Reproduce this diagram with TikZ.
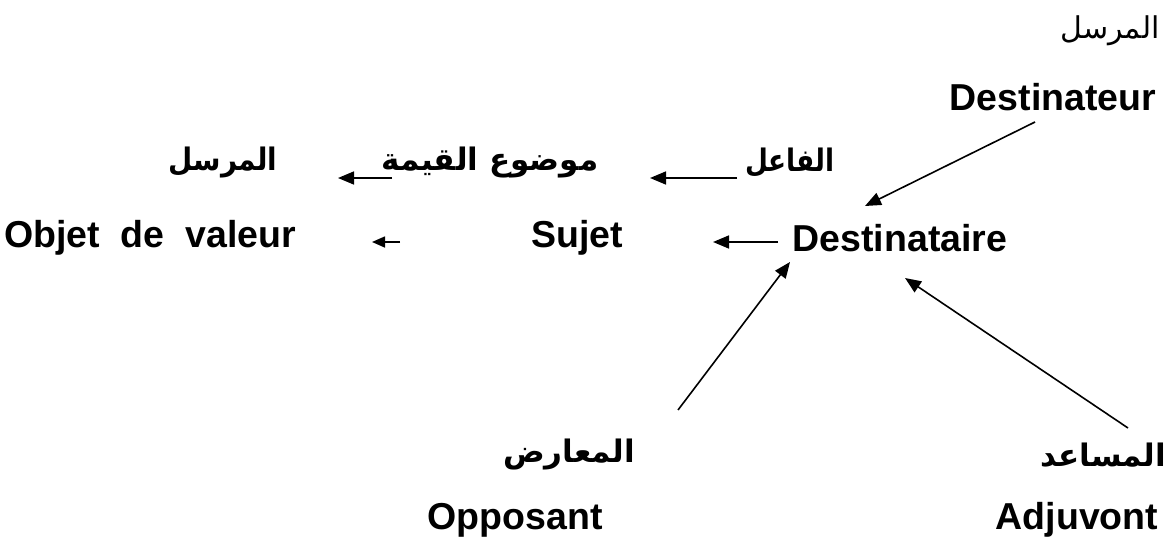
\documentclass[tikz,border=0pt]{standalone}
\usepackage{fontspec}
\setmainfont{Liberation Sans}
\newfontfamily\arabicfont[Script=Arabic]{DejaVu Sans}
\TeXXeTstate=1
\usetikzlibrary{arrows.meta}
\tikzset{
  lat/.style={inner sep=0pt, font=\fontsize{37.5}{40}\selectfont\bfseries},
  arb/.style={inner sep=0pt, font=\arabicfont\fontsize{31}{36}\selectfont\bfseries},
  arbreg/.style={inner sep=0pt, font=\arabicfont\fontsize{30}{36}\selectfont},
  arr/.style={line width=1.6pt, -{Triangle[length=16pt,width=13pt]}},
}
\begin{document}
\begin{tikzpicture}[x=1pt,y=-1pt]
\useasboundingbox (0,0) rectangle (1167,541);
% top right
\node[arbreg] (mursil0) at (1110,31) {\beginR المرسل\endR};
\node[lat] (destr) at (1053,97) {Destinateur};
% arabic row
\node[arb] (fael) at (790,163) {\scalebox{0.85}[1]{\beginR الفاعل\endR}};
\node[arb] (mawdu) at (490,163) {\beginR موضوع القيمة\endR};
\node[arb] (mursil) at (223,163) {\scalebox{0.9}[1]{\beginR المرسل\endR}};
% latin row
\node[lat] (objet) at (150,238) {Objet\ \ de\ \ valeur};
\node[lat] (sujet) at (577,238) {Sujet};
\node[lat] (desta) at (900,238) {Destinataire};
% bottom
\node[arb] (moared) at (569,455) {\beginR المعارض\endR};
\node[lat] (opp) at (515,520) {Opposant};
\node[arb] (mosaed) at (1103,455) {\beginR المساعد\endR};
\node[lat] (adj) at (1077,520) {Adjuvont};
% connector free ends
\coordinate (a1s) at (737,178);
\coordinate (a1e) at (650,178);
\coordinate (a2s) at (392,178);
\coordinate (a2e) at (338,178);
\coordinate (a3s) at (400,242);
\coordinate (a3e) at (372,242);
\coordinate (a4s) at (778,242);
\coordinate (a4e) at (713,242);
\coordinate (d1s) at (1035,122);
\coordinate (d1e) at (865,206);
\coordinate (d2s) at (678,410);
\coordinate (d2e) at (790,262);
\coordinate (d3s) at (1128,428);
\coordinate (d3e) at (905,278);
\draw[arr] (a1s) -- (a1e);
\draw[arr] (a2s) -- (a2e);
\draw[line width=1.6pt, -{Triangle[length=13pt,width=11pt]}] (a3s) -- (a3e);
\draw[arr] (a4s) -- (a4e);
\draw[arr] (d1s) -- (d1e);
\draw[arr] (d2s) -- (d2e);
\draw[arr] (d3s) -- (d3e);
\end{tikzpicture}
\end{document}
